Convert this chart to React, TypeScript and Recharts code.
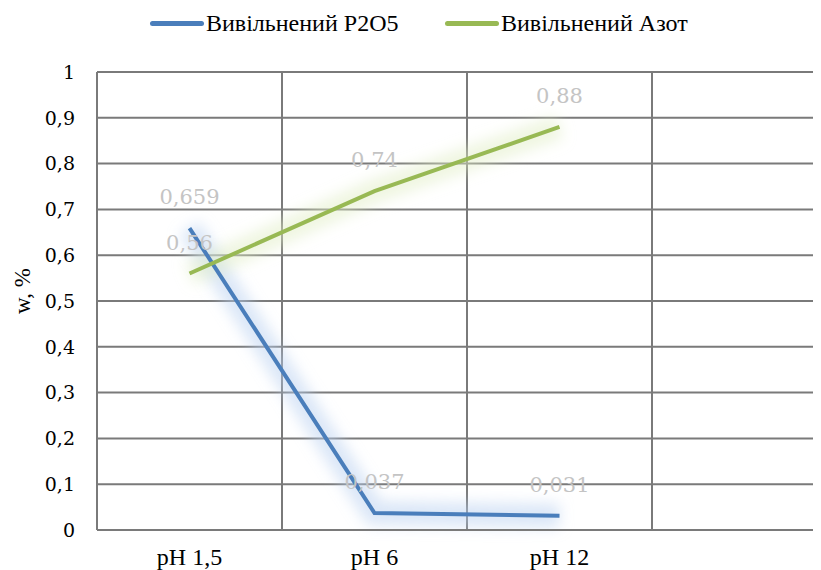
import React from 'react';
import { LineChart, Line, XAxis, YAxis, CartesianGrid, LabelList } from 'recharts';

const categories = ['pH 1,5', 'pH 6', 'pH 12', ''];
const p2o5 = [0.659, 0.037, 0.031, null];
const nitrogen = [0.56, 0.74, 0.88, null];
const yTicks = [0, 0.1, 0.2, 0.3, 0.4, 0.5, 0.6, 0.7, 0.8, 0.9, 1];
const seriesNames = ['Вивільнений P2O5', 'Вивільнений Азот'];
const seriesColors = ['#4a7ebb', '#98b954'];

const data = categories.map((c, i) => ({ name: c, p2o5: p2o5[i], n: nitrogen[i] }));

const fmt = (v: any) => (v === null || v === undefined ? '' : String(v).replace('.', ','));

const SERIF = 'Liberation Serif';
const TICKFONT = 'DejaVu Serif';
const GRID = '#7a7a7a';
const legendLeft = [142, 437];

const LegendBar = () => (
  <div style={{ position: 'absolute', top: 0, left: 0, width: 813, height: 30, fontFamily: SERIF, fontSize: 24, color: '#000' }}>
    {seriesNames.map((n, i) => (
      <div key={n} style={{ position: 'absolute', left: legendLeft[i], top: 0, height: 30, display: 'flex', alignItems: 'center', whiteSpace: 'nowrap' }}>
        <div style={{ width: 54, height: 5, background: seriesColors[i], borderRadius: 2.5, marginRight: 2 }} />
        <span>{n}</span>
      </div>
    ))}
  </div>
);

export default function App() {
  return (
    <div style={{ position: 'relative', width: 813, height: 562, overflow: 'hidden', background: '#fff' }}>
      <LegendBar />
      <LineChart width={835} height={562} data={data} margin={{ top: 64, right: 6, left: 0, bottom: 10 }}>
        <defs>
          <filter id="glow" x="-50%" y="-50%" width="200%" height="200%">
            <feGaussianBlur stdDeviation="7" />
          </filter>
        </defs>
        <CartesianGrid
          stroke={GRID}
          strokeWidth={2}
          verticalCoordinatesGenerator={({ offset }: any) => [1, 2, 3].map((i) => offset.left + (i * offset.width) / 4)}
        />
        <XAxis
          dataKey="name"
          scale="band"
          height={30}
          axisLine={{ stroke: GRID, strokeWidth: 2 }}
          tickLine={false}
          tickSize={0}
          tickMargin={18}
          tick={{ fill: '#000', fontFamily: SERIF, fontSize: 24 }}
          interval={0}
        />
        <YAxis
          width={89}
          domain={[0, 1]}
          ticks={yTicks}
          tickFormatter={fmt}
          axisLine={{ stroke: GRID, strokeWidth: 2 }}
          tickLine={false}
          tickSize={0}
          tickMargin={22}
          tick={{ fill: '#000', fontFamily: TICKFONT, fontSize: 19 }}
          label={{
            content: ({ viewBox }: any) => {
              const cx = viewBox.x + 14;
              const cy = viewBox.y + viewBox.height / 2 - 10;
              return (
                <text
                  x={cx}
                  y={cy}
                  transform={`rotate(-90, ${cx}, ${cy})`}
                  textAnchor="middle"
                  dominantBaseline="central"
                  fontFamily={SERIF}
                  fontSize={23}
                  fill="#000"
                >
                  w, %
                </text>
              );
            },
          }}
        />
        <Line dataKey="p2o5" stroke="#b8d0f0" strokeOpacity={0.5} strokeWidth={24} dot={false} isAnimationActive={false} filter="url(#glow)" legendType="none" />
        <Line dataKey="n" stroke="#e0eec4" strokeOpacity={0.5} strokeWidth={24} dot={false} isAnimationActive={false} filter="url(#glow)" legendType="none" />
        <Line dataKey="p2o5" name={seriesNames[0]} stroke={seriesColors[0]} strokeWidth={4} dot={false} isAnimationActive={false}>
          <LabelList dataKey="p2o5" position="top" offset={24} formatter={fmt} fill="#c4c4c4" fontFamily={TICKFONT} fontSize={21} />
        </Line>
        <Line dataKey="n" name={seriesNames[1]} stroke={seriesColors[1]} strokeWidth={4} dot={false} isAnimationActive={false}>
          <LabelList dataKey="n" position="top" offset={24} formatter={fmt} fill="#c4c4c4" fontFamily={TICKFONT} fontSize={21} />
        </Line>
      </LineChart>
    </div>
  );
}
